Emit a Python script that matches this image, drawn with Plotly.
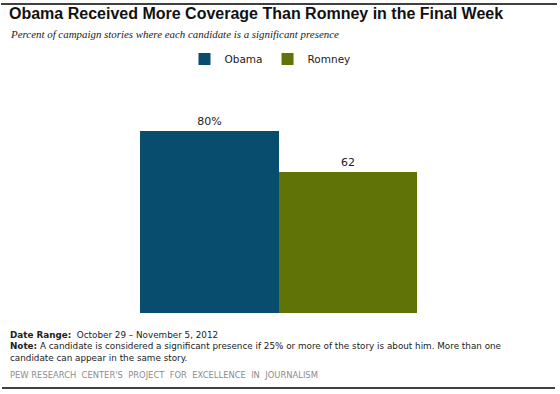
import plotly.graph_objects as go

# ---- data ----
candidates = ["Obama", "Romney"]
values = [80, 62]
value_labels = ["80%", "62"]
colors = ["#094D6E", "#607306"]
category = [""]

# ---- layout helpers (pixel -> paper, paper = full figure) ----
W, H = 560, 394
PLOT_L, PLOT_R, PLOT_T, PLOT_B = 140, 417, 86, 313


def px(x):
    return x / W


def py(y):
    return 1 - y / H


fig = go.Figure()
for name, v, lab, c in zip(candidates, values, value_labels, colors):
    fig.add_trace(go.Bar(
        x=category, y=[v], name=name, marker=dict(color=c, line=dict(width=0)),
        text=[lab], textposition="outside", cliponaxis=False,
        textfont=dict(family="DejaVu Sans", size=11, color="#222222"),
    ))

fig.update_layout(
    width=W, height=H,
    margin=dict(l=0, r=0, t=0, b=0, pad=0),
    barmode="group", bargap=0, bargroupgap=0,
    plot_bgcolor="white", paper_bgcolor="white",
    font=dict(family="DejaVu Sans", size=11, color="#222222"),
    xaxis=dict(visible=False, domain=[px(PLOT_L), px(PLOT_R)]),
    yaxis=dict(visible=False, range=[0, 100], domain=[py(PLOT_B), py(PLOT_T)]),
    showlegend=True,
    legend=dict(orientation="h", x=px(270), xanchor="center", y=py(59), yanchor="middle",
                font=dict(size=10.5, family="DejaVu Sans"), itemwidth=30,
                bgcolor="rgba(0,0,0,0)", tracegroupgap=0),
)

annotations = [
    dict(text="<b>Obama Received More Coverage Than Romney in the Final Week</b>",
         x=px(7), y=py(14), font=dict(family="Liberation Sans", size=16, color="#111111")),
    dict(text="<i>Percent of campaign stories where each candidate is a significant presence</i>",
         x=px(8), y=py(34), font=dict(family="Liberation Serif", size=10.9, color="#222222")),
    dict(text="<b>Date Range:</b>  October 29 – November 5, 2012",
         x=px(8), y=py(335), font=dict(family="DejaVu Sans", size=8.8, color="#222222")),
    dict(text="<b>Note:</b> A candidate is considered a significant presence if 25% or more of the story is about him. More than one",
         x=px(8), y=py(346), font=dict(family="DejaVu Sans", size=8.8, color="#222222")),
    dict(text="candidate can appear in the same story.",
         x=px(8), y=py(358), font=dict(family="DejaVu Sans", size=8.8, color="#222222")),
    dict(text="PEW RESEARCH  CENTER'S  PROJECT  FOR  EXCELLENCE  IN  JOURNALISM",
         x=px(8), y=py(375), font=dict(family="DejaVu Sans", size=8.4, color="#8c8c8c")),
]
for a in annotations:
    a.update(xref="paper", yref="paper", xanchor="left", yanchor="middle", showarrow=False, align="left")
fig.update_layout(annotations=annotations)

fig.add_shape(type="line", xref="paper", yref="paper", x0=px(1), x1=px(557), y0=py(4), y1=py(4),
              line=dict(color="black", width=1.5))
fig.add_shape(type="line", xref="paper", yref="paper", x0=px(2), x1=px(555), y0=py(388), y1=py(388),
              line=dict(color="black", width=1.5))

fig.write_html("out.html", config={"displayModeBar": False},
               post_script="document.body.style.margin='0';document.body.style.overflow='hidden';")
